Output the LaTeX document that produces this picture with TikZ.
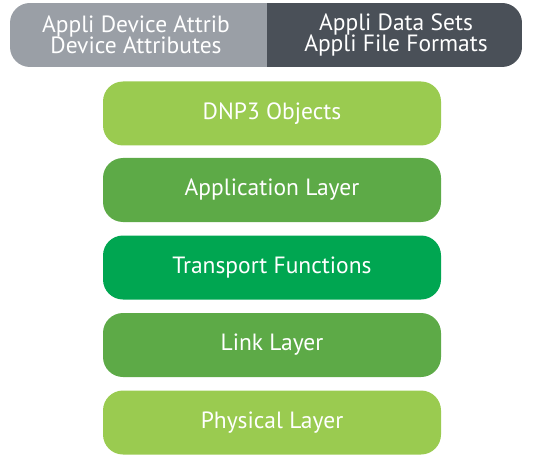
\documentclass[tikz,border=0pt]{standalone}
\usepackage{fontspec}
\setmainfont{PT Sans}
\definecolor{lgreen}{HTML}{9ACB50}
\definecolor{mgreen}{HTML}{5DAA47}
\definecolor{bgreen}{HTML}{00A651}
\definecolor{lgray}{HTML}{9A9FA6}
\definecolor{dgray}{HTML}{4A5058}
\begin{document}
\begin{tikzpicture}[x=1pt,y=-1pt,
  layer/.style={rounded corners=20pt, minimum width=338pt, minimum height=64pt, text=white, font=\fontsize{23.5}{26}\selectfont, inner sep=0pt},
  hdr/.style={text=white, font=\fontsize{23.5}{21.5}\selectfont, align=center, inner sep=0pt}]
\useasboundingbox (0,0) rectangle (534,454);
% top bar
\begin{scope}
\clip[rounded corners=20pt] (10,3) rectangle (522,67);
\fill[lgray] (10,3) rectangle (267,67);
\fill[dgray] (267,3) rectangle (522,67);
\end{scope}
\node[hdr] (attr) at (136,35) {Appli Device Attrib\\Device Attributes};
\node[hdr] (data) at (396,35) {Appli Data Sets\\Appli File Formats};
% layers
\node[layer, fill=lgreen] (dnp) at (272,113.5) {DNP3 Objects};
\node[layer, fill=mgreen] (app) at (272,190) {Application Layer};
\node[layer, fill=bgreen] (tra) at (272,267.5) {Transport Functions};
\node[layer, fill=mgreen] (lnk) at (272,345) {Link Layer};
\node[layer, fill=lgreen] (phy) at (272,422.5) {Physical Layer};
\end{tikzpicture}
\end{document}
